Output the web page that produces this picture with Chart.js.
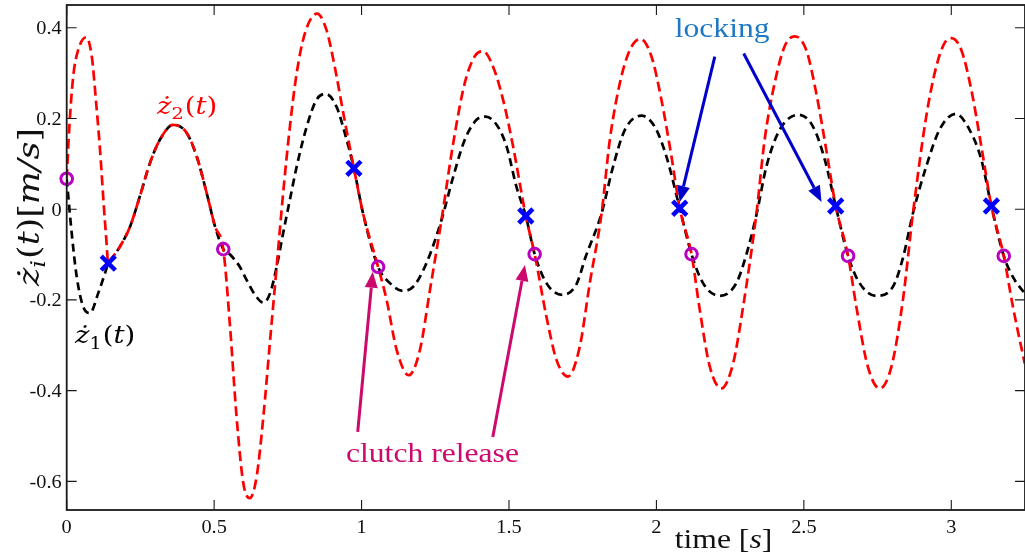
<!DOCTYPE html>
<html>
<head>
<meta charset="utf-8">
<script src="https://cdn.jsdelivr.net/npm/chart.js@4.4.1/dist/chart.umd.min.js"></script>
<style>
  html, body { margin: 0; padding: 0; background: #fff; overflow: hidden; }
  #wrap { width: 1025px; height: 557px; }
</style>
</head>
<body>
<div id="wrap"><canvas id="c" width="1025" height="557"></canvas></div>
<script>
// Mass 1 velocity  z1'(t)  [m/s]
const tZ1 = [0,0.017,0.034,0.056,0.079,0.107,0.130,0.141,0.150,0.181,0.215,0.248,0.282,0.316,0.361,0.407,0.441,0.475,0.503,0.531,0.554,0.587,0.610,0.640,0.667,0.690,0.712,0.734,0.757,0.780,0.814,0.847,0.879,0.915,0.943,0.974,1.005,1.056,1.096,1.140,1.175,1.220,1.271,1.311,1.350,1.390,1.421,1.458,1.492,1.525,1.557,1.587,1.627,1.681,1.729,1.760,1.814,1.853,1.893,1.949,1.994,2.034,2.079,2.119,2.158,2.215,2.271,2.305,2.340,2.373,2.418,2.483,2.531,2.571,2.608,2.650,2.689,2.746,2.802,2.835,2.870,2.915,2.960,3.015,3.062,3.102,3.136,3.178,3.215,3.249];
const z1 = [0.067,-0.053,-0.149,-0.215,-0.229,-0.185,-0.141,-0.119,-0.111,-0.082,-0.038,0.028,0.101,0.153,0.186,0.168,0.116,0.035,-0.038,-0.088,-0.100,-0.127,-0.156,-0.190,-0.206,-0.185,-0.127,-0.053,0.021,0.094,0.182,0.241,0.254,0.226,0.168,0.090,-0.009,-0.127,-0.163,-0.180,-0.171,-0.119,-0.024,0.072,0.153,0.197,0.204,0.186,0.138,0.050,-0.015,-0.099,-0.163,-0.189,-0.165,-0.105,-0.009,0.094,0.175,0.206,0.182,0.116,0.002,-0.099,-0.163,-0.191,-0.163,-0.100,-0.010,0.094,0.175,0.208,0.182,0.109,0.007,-0.103,-0.163,-0.191,-0.171,-0.110,-0.009,0.094,0.175,0.210,0.175,0.109,0.007,-0.103,-0.156,-0.185];

// Mass 2 velocity  z2'(t)  [m/s]
const tZ2 = [0,0.009,0.022,0.039,0.066,0.085,0.099,0.113,0.126,0.134,0.141,0.150,0.181,0.215,0.248,0.282,0.316,0.361,0.407,0.441,0.475,0.503,0.531,0.554,0.576,0.599,0.621,0.644,0.667,0.689,0.712,0.734,0.757,0.780,0.808,0.849,0.881,0.909,0.938,0.974,1.005,1.056,1.085,1.119,1.160,1.198,1.232,1.271,1.311,1.350,1.384,1.412,1.446,1.480,1.514,1.557,1.587,1.627,1.661,1.700,1.740,1.774,1.814,1.842,1.876,1.910,1.946,1.983,2.017,2.051,2.079,2.119,2.147,2.181,2.220,2.260,2.294,2.340,2.367,2.401,2.435,2.469,2.508,2.542,2.576,2.608,2.650,2.678,2.717,2.757,2.797,2.836,2.870,2.915,2.949,2.977,3.000,3.034,3.068,3.102,3.136,3.178,3.209,3.249];
const z2 = [0.067,0.182,0.292,0.351,0.379,0.337,0.241,0.131,0.006,-0.064,-0.119,-0.111,-0.082,-0.038,0.028,0.101,0.153,0.186,0.168,0.116,0.035,-0.038,-0.088,-0.259,-0.457,-0.604,-0.637,-0.590,-0.457,-0.295,-0.127,0.035,0.182,0.300,0.388,0.431,0.395,0.314,0.212,0.090,-0.009,-0.127,-0.200,-0.310,-0.366,-0.310,-0.178,-0.024,0.146,0.278,0.337,0.348,0.314,0.241,0.138,-0.015,-0.099,-0.237,-0.332,-0.369,-0.303,-0.163,-0.009,0.153,0.278,0.351,0.375,0.337,0.241,0.116,0.002,-0.099,-0.222,-0.347,-0.395,-0.340,-0.215,-0.005,0.153,0.278,0.359,0.381,0.351,0.256,0.131,0.007,-0.103,-0.215,-0.347,-0.395,-0.347,-0.200,-0.009,0.204,0.314,0.366,0.377,0.351,0.263,0.138,0.007,-0.103,-0.215,-0.340];

// Locking instants (x) and clutch-release instants (o)
const tLock = [0.141,0.974,1.557,2.079,2.608,3.136];
const zLock = [-0.119,0.090,-0.015,0.002,0.007,0.007];
const tRelease = [0,0.531,1.056,1.587,2.119,2.650,3.178];
const zRelease = [0.067,-0.088,-0.127,-0.099,-0.099,-0.103,-0.103];

// Axis ticks
const xTicks = [0,0.5,1,1.5,2,2.5,3];
const xTickLabels = ['0','0.5','1','1.5','2','2.5','3'];
const yTicks = [-0.6,-0.4,-0.2,0,0.2,0.4];
const yTickLabels = ['-0.6','-0.4','-0.2','0','0.2','0.4'];

const pts = (ts, vs) => ts.map((t, i) => ({ x: t, y: vs[i] }));

const SERIF = '"Liberation Serif", "Times New Roman", serif';
const MATH = '"DejaVu Serif", "Liberation Serif", serif';

// text drawn with a horizontal stretch factor
function stretchedText(ctx, text, x, y, sx, align) {
  const w = ctx.measureText(text).width * sx;
  let left = x;
  if (align === 'center') left = x - w / 2;
  else if (align === 'right') left = x - w;
  ctx.save();
  ctx.translate(left, y);
  ctx.scale(sx, 1);
  ctx.textAlign = 'left';
  ctx.fillText(text, 0, 0);
  ctx.restore();
  return w;
}

// sequence of runs: {s, it, sub}; drawn starting at origin along +x
function drawRuns(ctx, runs, size, family, sx) {
  let x = 0;
  runs.forEach(r => {
    const fs = r.sub ? size * 0.7 : size;
    ctx.font = (r.it ? 'italic ' : '') + fs + 'px ' + family;
    const dy = r.sub ? size * 0.22 : 0;
    ctx.save();
    ctx.translate(x, dy);
    ctx.scale(sx, 1);
    ctx.textAlign = 'left';
    ctx.fillText(r.s, 0, 0);
    ctx.restore();
    x += ctx.measureText(r.s).width * sx + (r.gap || 0);
  });
  return x;
}

function arrow(ctx, x0, y0, x1, y1, color) {
  const ang = Math.atan2(y1 - y0, x1 - x0);
  const hl = 16, hw = 6.5;
  const bx = x1 - hl * Math.cos(ang), by = y1 - hl * Math.sin(ang);
  ctx.save();
  ctx.strokeStyle = color; ctx.fillStyle = color;
  ctx.lineWidth = 3; ctx.lineCap = 'butt';
  ctx.beginPath(); ctx.moveTo(x0, y0); ctx.lineTo(bx, by); ctx.stroke();
  ctx.beginPath();
  ctx.moveTo(x1, y1);
  ctx.lineTo(bx + hw * Math.sin(ang), by - hw * Math.cos(ang));
  ctx.lineTo(bx - hw * Math.sin(ang), by + hw * Math.cos(ang));
  ctx.closePath(); ctx.fill();
  ctx.restore();
}

const decor = {
  id: 'decor',
  afterDraw(chart) {
    const { ctx, chartArea: a } = chart;
    const X = chart.scales.x, Y = chart.scales.y;
    const px = v => X.getPixelForValue(v), py = v => Y.getPixelForValue(v);
    ctx.save();

    // frame with inward ticks
    ctx.strokeStyle = '#1a1a1a';
    ctx.lineWidth = 1.8;
    ctx.strokeRect(a.left, a.top, a.right - a.left, a.bottom - a.top);
    ctx.lineWidth = 1.1;
    ctx.beginPath();
    xTicks.forEach(v => {
      const x = px(v);
      ctx.moveTo(x, a.bottom); ctx.lineTo(x, a.bottom - 10);
      ctx.moveTo(x, a.top); ctx.lineTo(x, a.top + 10);
    });
    yTicks.forEach(v => {
      const y = py(v);
      ctx.moveTo(a.left, y); ctx.lineTo(a.left + 10, y);
      ctx.moveTo(a.right, y); ctx.lineTo(a.right - 10, y);
    });
    ctx.stroke();

    // tick labels
    ctx.fillStyle = '#111';
    ctx.font = '18px ' + SERIF;
    xTicks.forEach((v, i) => stretchedText(ctx, xTickLabels[i], px(v), a.bottom + 23, 1.13, 'center'));
    yTicks.forEach((v, i) => stretchedText(ctx, yTickLabels[i], a.left - 5, py(v) + 6.5, 1.13, 'right'));

    // axis titles
    ctx.save();
    ctx.translate(px(2.062), a.bottom + 38);
    drawRuns(ctx, [{ s: 'time [' }, { s: 's', it: true }, { s: ']' }], 28, SERIF, 1.13);
    ctx.restore();

    ctx.save();
    ctx.translate(39, 286);
    ctx.rotate(-Math.PI / 2);
    drawRuns(ctx, [
      { s: '\u017C', it: true }, { s: 'i', it: true, sub: true, gap: 1 },
      { s: '(' }, { s: 't', it: true }, { s: ')' },
      { s: '[' }, { s: 'm', it: true }, { s: '/', it: true }, { s: 's', it: true }, { s: ']' }
    ], 29, MATH, 1.2);
    ctx.restore();

    // curve names
    ctx.fillStyle = '#ff0000';
    ctx.save();
    ctx.translate(px(0.306), py(0.21));
    drawRuns(ctx, [{ s: '\u017C', it: true }, { s: '2', sub: true, gap: 1 }, { s: '(' }, { s: 't', it: true }, { s: ')' }], 25, MATH, 1.1);
    ctx.restore();

    ctx.fillStyle = '#000';
    ctx.save();
    ctx.translate(px(0.028), py(-0.296));
    drawRuns(ctx, [{ s: '\u017C', it: true }, { s: '1', sub: true, gap: 1 }, { s: '(' }, { s: 't', it: true }, { s: ')' }], 25, MATH, 1.1);
    ctx.restore();

    // annotations
    const clutchColor = '#cc0a6e';
    ctx.fillStyle = clutchColor;
    ctx.font = '28px ' + SERIF;
    stretchedText(ctx, 'clutch release', px(0.947), py(-0.558), 1.13, 'left');
    arrow(ctx, px(0.987), py(-0.491), px(1.038), py(-0.138), clutchColor);
    arrow(ctx, px(1.445), py(-0.502), px(1.554), py(-0.123), clutchColor);

    const lockColor = '#0000cc';
    ctx.fillStyle = '#1f78c4';
    ctx.font = '28px ' + SERIF;
    stretchedText(ctx, 'locking', px(2.062), py(0.380), 1.13, 'left');
    arrow(ctx, px(2.198), py(0.336), px(2.079), py(0.016), lockColor);
    arrow(ctx, px(2.296), py(0.343), px(2.560), py(0.016), lockColor);

    ctx.restore();
  }
};

// fixed axis box sizes, no label overhang padding
const fixX = s => { s.height = 47; s.paddingLeft = 0; s.paddingRight = 0; s.paddingTop = 0; s.paddingBottom = 0; };
const fixY = s => { s.width = 66.7; s.paddingLeft = 0; s.paddingRight = 0; s.paddingTop = 0; s.paddingBottom = 0; };

new Chart(document.getElementById('c'), {
  type: 'line',
  data: {
    datasets: [
      {
        label: 'locking', data: pts(tLock, zLock), showLine: false,
        pointStyle: 'crossRot', pointRadius: 10, pointBorderWidth: 4.5,
        pointBorderColor: '#0000ff', pointBackgroundColor: '#0000ff',
        order: 0, clip: false
      },
      {
        label: 'clutch release', data: pts(tRelease, zRelease), showLine: false,
        pointStyle: 'circle', pointRadius: 5.8, pointBorderWidth: 3,
        pointBorderColor: '#b800c0', pointBackgroundColor: 'rgba(0,0,0,0)',
        order: 1, clip: false
      },
      {
        label: 'z2', data: pts(tZ2, z2), borderColor: '#ff0000', borderWidth: 2.7,
        borderDash: [10, 5], pointRadius: 0, cubicInterpolationMode: 'monotone',
        fill: false, order: 2
      },
      {
        label: 'z1', data: pts(tZ1, z1), borderColor: '#000000', borderWidth: 2.7,
        borderDash: [8, 5], pointRadius: 0, cubicInterpolationMode: 'monotone',
        fill: false, order: 3
      }
    ]
  },
  options: {
    responsive: false,
    animation: false,
    events: [],
    layout: { autoPadding: false, padding: { top: 5, left: 0, right: 0, bottom: 0 } },
    plugins: { legend: { display: false }, tooltip: { enabled: false } },
    scales: {
      x: {
        type: 'linear', min: 0, max: 3.25,
        afterBuildTicks: s => { s.ticks = xTicks.map(v => ({ value: v })); },
        ticks: { display: false },
        grid: { display: false },
        border: { display: false },
        afterFit: fixX
      },
      y: {
        type: 'linear', min: -0.663, max: 0.45,
        afterBuildTicks: s => { s.ticks = yTicks.map(v => ({ value: v })); },
        ticks: { display: false },
        grid: { display: false },
        border: { display: false },
        afterFit: fixY
      }
    }
  },
  plugins: [decor]
});
</script>
</body>
</html>
